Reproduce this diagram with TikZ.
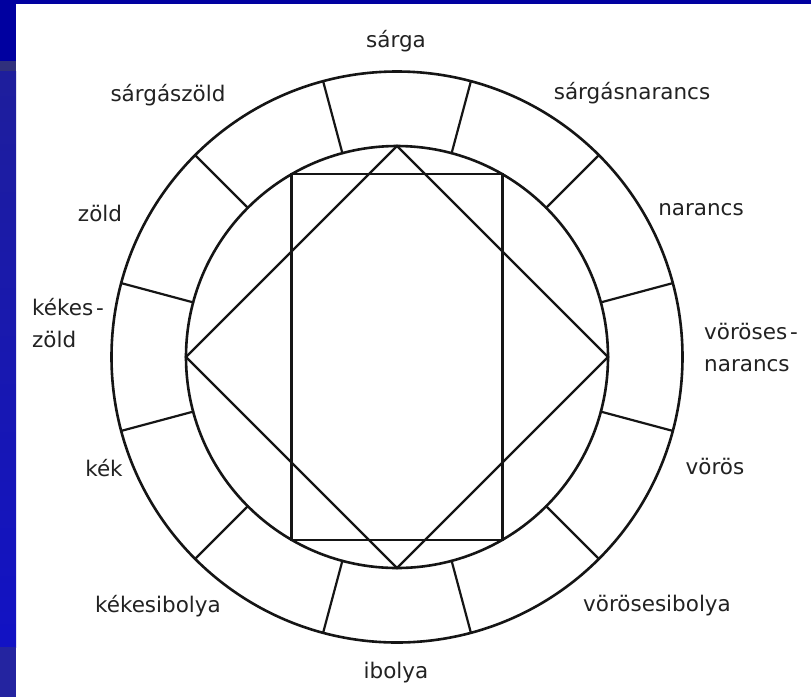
\documentclass[tikz,border=0pt]{standalone}
\usepackage{fontspec}
\setmainfont{DejaVu Sans}
\usetikzlibrary{calc}
\definecolor{frameblue}{HTML}{0000A0}
\definecolor{bandgrey}{HTML}{30307C}
\definecolor{striptop}{HTML}{1E1E9C}
\definecolor{stripbot}{HTML}{1212C4}
\definecolor{stripfoot}{HTML}{2424A0}
\definecolor{ink}{HTML}{151515}
\definecolor{labelink}{HTML}{222222}
\begin{document}
\begin{tikzpicture}[x=1pt,y=-1pt,
  lbl/.style={font=\fontsize{21.5}{32}\selectfont, text=labelink, inner sep=0pt},
  ring/.style={draw=ink, line width=2.6pt},
  edge/.style={draw=ink, line width=2.2pt, line join=miter, line cap=round}]
\useasboundingbox (0,0) rectangle (811,697);
\fill[white] (0,0) rectangle (811,697);
% slide frame
\fill[frameblue] (0,0) rectangle (811,4);
\fill[frameblue] (0,0) rectangle (16,61);
\fill[bandgrey] (0,61) rectangle (16,71);
\shade[top color=striptop, bottom color=stripbot] (0,71) rectangle (16,647);
\fill[stripfoot] (0,647) rectangle (16,697);
% circles
\coordinate (C) at (397,357);
\draw[ring] (C) circle[radius=285.5pt];
\draw[ring] (C) circle[radius=211pt];
% radial dividers
\foreach \i in {0,...,11}{
  \pgfmathsetmacro{\ang}{15+30*\i}
  \coordinate (in\i) at ($(C)+(\ang:211pt)$);
  \coordinate (out\i) at ($(C)+(\ang:285.5pt)$);
  \draw[edge] (in\i) -- (out\i);
}
% diamond
\coordinate (dT) at ($(C)+(90:211pt)$);
\coordinate (dL) at ($(C)+(180:211pt)$);
\coordinate (dB) at ($(C)+(270:211pt)$);
\coordinate (dR) at ($(C)+(0:211pt)$);
\draw[edge, line cap=butt] (dT) -- (dL) -- (dB) -- (dR) -- cycle;
% rectangle
\coordinate (r1) at ($(C)+(60:211pt)$);
\coordinate (r2) at ($(C)+(120:211pt)$);
\coordinate (r3) at ($(C)+(240:211pt)$);
\coordinate (r4) at ($(C)+(300:211pt)$);
\draw[edge, line cap=butt] (r1) -- (r2) -- (r3) -- (r4) -- cycle;
% labels
\node[lbl] (sarga) at (396,41) {sárga};
\node[lbl] (sargasnarancs) at (632,93) {sárgásnarancs};
\node[lbl] (narancs) at (701,210) {narancs};
\node[lbl, align=left, anchor=west] (vorosesnarancs) at (704,347) {vöröses\kern3pt-\\narancs};
\node[lbl] (voros) at (715,466) {vörös};
\node[lbl] (vorosesibolya) at (657,606) {vörösesibolya};
\node[lbl] (ibolya) at (396,673) {ibolya};
\node[lbl] (kekesibolya) at (158,606) {kékesibolya};
\node[lbl] (kek) at (104,468) {kék};
\node[lbl, align=left, anchor=west] (kekeszold) at (32,323) {kékes\kern3pt-\\zöld};
\node[lbl] (zold) at (100,213) {zöld};
\node[lbl] (sargaszold) at (168,95) {sárgászöld};
\end{tikzpicture}
\end{document}
